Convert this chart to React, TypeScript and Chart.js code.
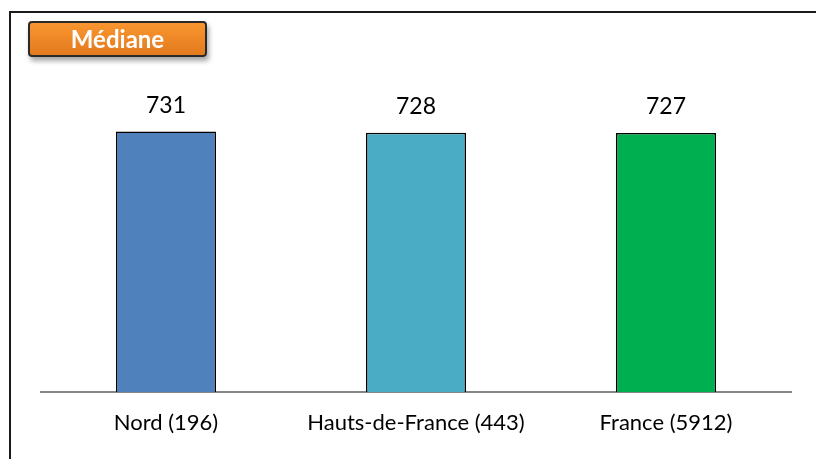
import React, { useEffect, useRef } from "react";
import { Chart, registerables } from "chart.js";

Chart.register(...registerables);

const categories = ["Nord (196)", "Hauts-de-France (443)", "France (5912)"];
const medianValues = [731, 728, 727];
const barColors = ["#4F81BD", "#4BACC6", "#00B050"];
const titleText = "Médiane";

const FONT = "Lato, 'Open Sans', sans-serif";

const valueLabelPlugin = {
  id: "valueLabels",
  afterDatasetsDraw(chart: any) {
    const ctx = chart.ctx;
    const meta = chart.getDatasetMeta(0);
    ctx.save();
    ctx.fillStyle = "#000";
    ctx.font = `23px ${FONT}`;
    ctx.textAlign = "center";
    ctx.textBaseline = "middle";
    meta.data.forEach((bar: any, i: number) => {
      const v = chart.data.datasets[0].data[i];
      ctx.fillText(String(v), bar.x, bar.y - 26);
    });
    ctx.restore();
  },
};

export default function App() {
  const canvasRef = useRef<HTMLCanvasElement | null>(null);

  useEffect(() => {
    if (!canvasRef.current) return;
    const chart = new Chart(canvasRef.current, {
      type: "bar",
      data: {
        labels: categories,
        datasets: [
          {
            data: medianValues,
            backgroundColor: barColors,
            borderColor: "#000",
            borderWidth: 1.5,
            barPercentage: 0.4,
            categoryPercentage: 1,
          },
        ],
      },
      options: {
        responsive: false,
        animation: false,
        devicePixelRatio: 1,
        layout: { padding: { left: 41, right: 25, top: 107, bottom: 0 } },
        plugins: {
          legend: { display: false },
          tooltip: { enabled: false },
        },
        scales: {
          x: {
            grid: { display: false, drawTicks: false },
            border: { display: true, color: "#868686", width: 2 },
            ticks: {
              color: "#000",
              font: { family: FONT, size: 22 },
              padding: 18,
              maxRotation: 0,
              autoSkip: false,
            },
            afterFit: (scale: any) => {
              scale.height = 67;
            },
          },
          y: {
            display: false,
            min: 0,
            max: 800,
          },
        },
      },
      plugins: [valueLabelPlugin],
    });
    return () => chart.destroy();
  }, []);

  return (
    <div
      style={{
        position: "fixed",
        left: 0,
        top: 0,
        width: 816,
        height: 459,
        overflow: "hidden",
        background: "#fff",
      }}
    >
      <div
        style={{
          position: "absolute",
          left: 9,
          top: 11,
          width: 900,
          height: 600,
          borderLeft: "2px solid #1a1a1a",
          borderTop: "2px solid #1a1a1a",
        }}
      />
      <canvas
        ref={canvasRef}
        width={816}
        height={459}
        style={{ position: "absolute", left: 0, top: 0, width: 816, height: 459 }}
      />
      <div
        style={{
          position: "absolute",
          left: 28,
          top: 21,
          width: 175,
          height: 32,
          border: "2px solid #2a2a2a",
          borderRadius: 4,
          background: "linear-gradient(#F9962F, #E37A1E)",
          boxShadow: "2px 4px 5px rgba(0,0,0,0.35)",
          color: "#fff",
          fontFamily: FONT,
          fontWeight: 700,
          fontSize: 24,
          display: "flex",
          alignItems: "center",
          justifyContent: "center",
          lineHeight: 1,
        }}
      >
        {titleText}
      </div>
    </div>
  );
}
